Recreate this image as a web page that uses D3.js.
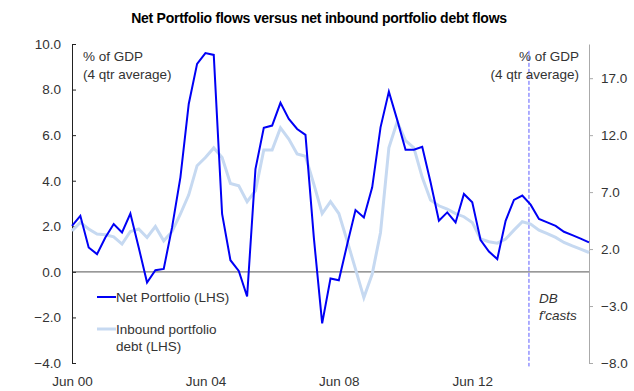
<!DOCTYPE html>
<html>
<head>
<meta charset="utf-8">
<script src="https://cdn.jsdelivr.net/npm/d3@7"></script>
<style>
  html, body { margin: 0; padding: 0; background: #fff; }
  svg { display: block; font-family: "Liberation Sans", Arial, sans-serif; }
</style>
</head>
<body>
<svg id="chart" width="634" height="391"></svg>
<script>
// Quarterly observations, Jun 2000 (Q2) to Dec 2015 (Q4); forecasts from Mar 2014
const netPortfolio = [
  2.02, 2.46, 1.07, 0.78, 1.51, 2.10, 1.73, 2.56, 1.07, -0.47, 0.07, 0.13, 1.95, 4.15, 7.37, 9.13,
  9.60, 9.52, 2.54, 0.51, 0.04, -1.08, 4.51, 6.32, 6.42, 7.42, 6.71, 6.27, 6.01, 1.51, -2.26, -0.29,
  -0.37, 1.20, 2.71, 2.39, 3.71, 6.34, 7.91, 6.67, 5.36, 5.36, 5.49, 3.93, 2.24, 2.61, 2.17, 3.42,
  3.05, 1.39, 0.89, 0.56, 2.24, 3.16, 3.35, 2.95, 2.32, 2.17, 2.02, 1.76, 1.61, 1.46, 1.29
];
const inboundDebt = [
  1.80, 2.17, 1.88, 1.66, 1.63, 1.54, 1.22, 1.77, 1.88, 1.51, 1.99, 1.36, 1.77, 2.54, 3.38, 4.66,
  5.02, 5.44, 5.02, 3.88, 3.78, 3.08, 3.56, 5.35, 5.35, 6.32, 5.83, 5.17, 5.07, 3.85, 2.56, 3.08,
  2.56, 1.36, 0.12, -1.13, -0.10, 1.73, 5.44, 6.59, 5.76, 5.44, 4.15, 3.15, 2.90, 2.75, 2.56, 2.42,
  2.17, 1.44, 1.32, 1.26, 1.44, 1.83, 2.20, 2.10, 1.83, 1.68, 1.51, 1.29, 1.14, 1.00, 0.85
];
const forecastStart = 54.8;           // quarter index where DB forecasts begin
const leftTicks = [-4, -2, 0, 2, 4, 6, 8, 10];
const rightTicks = [-8, -3, 2, 7, 12, 17];
const xTickIndex = [0, 16, 32, 48];
const xTickLabels = ["Jun 00", "Jun 04", "Jun 08", "Jun 12"];

const svg = d3.select("#chart");
const plotLeft = 72, plotRight = 589, plotTop = 44, plotBottom = 363;
const labelSize = 13.5;

const x = d3.scaleLinear().domain([0, netPortfolio.length - 1]).range([plotLeft, plotRight]);
const yL = d3.scaleLinear().domain([-4, 10]).range([plotBottom, plotTop]);
const yR = d3.scaleLinear().domain([-8, 20]).range([plotBottom, plotTop]);

// Title
svg.append("text")
  .attr("x", 319).attr("y", 23)
  .attr("text-anchor", "middle")
  .attr("font-size", 14).attr("font-weight", 600)
  .attr("letter-spacing", -0.25)
  .attr("fill", "#000")
  .text("Net Portfolio flows versus net inbound portfolio debt flows");

// Zero line
svg.append("line")
  .attr("x1", plotLeft).attr("x2", plotRight)
  .attr("y1", yL(0)).attr("y2", yL(0))
  .attr("stroke", "#777").attr("stroke-width", 1.2);

// Left axis: ticks pointing into the plot
const gL = svg.append("g").attr("transform", `translate(${plotLeft},0)`)
  .call(d3.axisLeft(yL).tickValues(leftTicks).tickFormat(d3.format(".1f")).tickSizeInner(-4).tickSizeOuter(0).tickPadding(11));
gL.select(".domain").attr("stroke", "#222");
gL.selectAll(".tick line").attr("stroke", "#222");
gL.selectAll("text").attr("font-size", labelSize).attr("fill", "#333")
  .attr("font-family", "Liberation Sans, Arial, sans-serif");

// Right axis
const gR = svg.append("g").attr("transform", `translate(${plotRight},0)`)
  .call(d3.axisRight(yR).tickValues(rightTicks).tickFormat(d3.format(".1f")).tickSizeInner(4).tickSizeOuter(0).tickPadding(8));
gR.select(".domain").attr("stroke", "#aaa");
gR.selectAll(".tick line").attr("stroke", "#aaa");
gR.selectAll("text").attr("font-size", labelSize).attr("fill", "#333")
  .attr("font-family", "Liberation Sans, Arial, sans-serif");

// Bottom date labels
const gX = svg.append("g").attr("transform", `translate(0,${plotBottom})`)
  .call(d3.axisBottom(x).tickValues(xTickIndex).tickFormat((d, i) => xTickLabels[i]).tickSize(0).tickPadding(13));
gX.select(".domain").remove();
gX.selectAll("text").attr("font-size", labelSize).attr("fill", "#333")
  .attr("font-family", "Liberation Sans, Arial, sans-serif");

// Forecast marker
svg.append("line")
  .attr("x1", x(forecastStart)).attr("x2", x(forecastStart))
  .attr("y1", yL(9.7)).attr("y2", yL(-4.15))
  .attr("stroke", "#5a5aff").attr("stroke-width", 1)
  .attr("stroke-dasharray", "4,2");

// Series
const line = d3.line().x((d, i) => x(i)).y(d => yL(d));
svg.append("path").datum(inboundDebt)
  .attr("d", line).attr("fill", "none")
  .attr("stroke", "#c6d9f1").attr("stroke-width", 3).attr("stroke-linejoin", "miter");
svg.append("path").datum(netPortfolio)
  .attr("d", line).attr("fill", "none")
  .attr("stroke", "#0000f5").attr("stroke-width", 2).attr("stroke-linejoin", "miter");

// Unit notes
const note = (xp, anchor, lines) => {
  lines.forEach((t, i) => svg.append("text")
    .attr("x", xp).attr("y", 61 + i * 18)
    .attr("text-anchor", anchor)
    .attr("font-size", labelSize).attr("fill", "#333")
    .text(t));
};
note(83, "start", ["% of GDP", "(4 qtr average)"]);
note(579, "end", ["% of GDP", "(4 qtr average)"]);

// Forecast label
["DB", "f'casts"].forEach((t, i) => svg.append("text")
  .attr("x", 539).attr("y", 303 + i * 17)
  .attr("font-size", labelSize).attr("font-style", "italic").attr("fill", "#333")
  .text(t));

// Legend
const legend = [
  { color: "#0000f5", width: 2, y: 297, lines: ["Net Portfolio (LHS)"] },
  { color: "#c6d9f1", width: 3, y: 329, lines: ["Inbound portfolio", "debt (LHS)"] }
];
legend.forEach(item => {
  svg.append("line")
    .attr("x1", 97).attr("x2", 116).attr("y1", item.y).attr("y2", item.y)
    .attr("stroke", item.color).attr("stroke-width", item.width);
  item.lines.forEach((t, i) => svg.append("text")
    .attr("x", 116).attr("y", item.y + 5 + i * 17)
    .attr("font-size", labelSize).attr("fill", "#333")
    .text(t));
});
</script>
</body>
</html>
